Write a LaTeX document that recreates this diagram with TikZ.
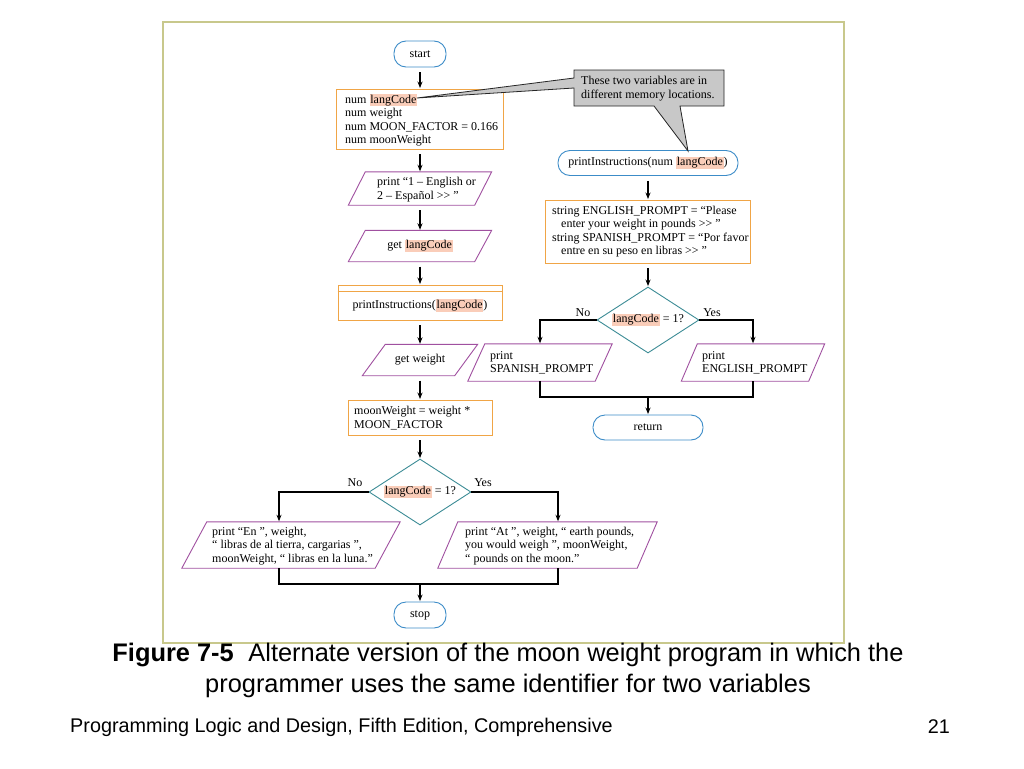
\documentclass[tikz,border=0pt]{standalone}
\usepackage{fontspec}
\setmainfont{Liberation Serif}
\newfontfamily\capfont{Liberation Sans}
\usetikzlibrary{arrows.meta,shapes.geometric}
\definecolor{orangeb}{RGB}{240,165,70}
\definecolor{purplec}{RGB}{160,80,160}
\definecolor{bluec}{RGB}{60,140,200}
\definecolor{tealc}{RGB}{60,140,150}
\definecolor{hlcol}{RGB}{250,205,185}
\definecolor{framec}{RGB}{200,200,140}
\definecolor{calloutc}{RGB}{200,200,200}
\newcommand\dfont{\fontsize{12}{13.5}\selectfont}
\newcommand\HiL[1]{{\setlength{\fboxsep}{0.8pt}\colorbox{hlcol}{#1}}}
\newcommand\parash[2]{\draw[parad] ([xshift=#2]#1.north west) -- ([xshift=#2]#1.north east) -- ([xshift=-#2]#1.south east) -- ([xshift=-#2]#1.south west) -- cycle;}
\begin{document}
\begin{tikzpicture}[x=1pt,y=-1pt,
  term/.style={draw=bluec, line width=0.9pt, rounded corners=12pt, minimum height=26pt, inner sep=0pt, font=\dfont},
  boxs/.style={draw=orangeb, line width=0.9pt, inner sep=0pt},
  body/.style={inner sep=0pt, font=\dfont},
  parad/.style={draw=purplec, line width=0.9pt},
  dec/.style={diamond, aspect=1.55, draw=tealc, line width=0.9pt, inner sep=0pt, minimum width=102pt, minimum height=66pt, font=\dfont},
  txt/.style={align=left, inner sep=0pt, font=\dfont},
  lbl/.style={inner sep=0pt, font=\dfont},
  conn/.style={draw, line width=1.1pt, shorten <=5pt, shorten >=0.5pt, -{Stealth[length=6.5pt,width=5pt]}},
  line/.style={draw, line width=1.1pt}
]
\useasboundingbox (0,0) rectangle (1024,768);
\fill[white] (0,0) rectangle (1024,768);
\draw[framec, line width=1.6pt] (163,22) rectangle (844,643);

% ---------- left column ----------
\node[term, minimum width=52pt] (start) at (420,54) {start};
\node[boxs, minimum width=167pt, minimum height=60pt] (decl) at (420,119) {};
\node[txt, anchor=west] (declt) at (345,120) {num \HiL{langCode}\\num weight\\num MOON\_FACTOR = 0.166\\num moonWeight};

\node[body, minimum width=126pt, minimum height=33pt] (prompt) at (420,188.5) {};
\parash{prompt}{8.5pt}
\node[txt, anchor=west] (promptt) at (377,189.5) {print “1 – English or\\2 – Español >\kern0pt> ”};

\node[body, minimum width=126pt, minimum height=31pt] (getlc) at (420,246) {get \HiL{langCode}};
\parash{getlc}{8.5pt}

\node[boxs, minimum width=164pt, minimum height=35pt] (pi) at (420,302.5) {};
\draw[orangeb, line width=0.9pt] ([yshift=-7pt]pi.north west) -- ([yshift=-7pt]pi.north east);
\node[lbl] (pit) at (420,305.5) {printInstructions(\HiL{langCode})};

\node[body, minimum width=92pt, minimum height=31pt] (getw) at (420,360) {get weight};
\parash{getw}{11.5pt}

\node[boxs, minimum width=144pt, minimum height=35pt] (mw) at (420,417.5) {};
\node[txt, anchor=west] (mwt) at (354,418) {moonWeight = weight *\\MOON\_FACTOR};

\node[dec] (d2) at (420,492) {\HiL{langCode} = 1?};
\node[lbl] (no2) at (355,483) {No};
\node[lbl] (yes2) at (483,483) {Yes};

\node[body, minimum width=193pt, minimum height=46pt] (en) at (291,545) {};
\parash{en}{12.5pt}
\node[txt, anchor=west] (ent) at (212,546) {print “En ”, weight,\\“ libras de al tierra, cargarias ”,\\moonWeight, “ libras en la luna.”};

\node[body, minimum width=199pt, minimum height=46pt] (at) at (547.5,545) {};
\parash{at}{10pt}
\node[txt, anchor=west] (att) at (465,546) {print “At ”, weight, “ earth pounds,\\you would weigh ”, moonWeight,\\“ pounds on the moon.”};

\node[term, minimum width=52pt] (stop) at (420,615) {stop};
\coordinate (m2) at (420,584);

\draw[conn] (start.south) -- (decl.north);
\draw[conn] (decl.south) -- (prompt.north);
\draw[conn] (prompt.south) -- (getlc.north);
\draw[conn] (getlc.south) -- (pi.north);
\draw[conn] (pi.south) -- (getw.north);
\draw[conn] (getw.south) -- (mw.north);
\draw[conn] (mw.south) -- (d2.north);
\draw[conn, shorten <=0pt] (d2.west) -| ([xshift=-12pt]en.north);
\draw[conn, shorten <=0pt] (d2.east) -| ([xshift=10.5pt]at.north);
\draw[line] ([xshift=-12pt]en.south) |- (m2) -| ([xshift=10.5pt]at.south);
\draw[conn, shorten <=0pt] (m2) -- (stop.north);

% ---------- right column ----------
\node[term, minimum width=180pt, minimum height=25pt] (pin) at (648,163) {printInstructions(num \HiL{langCode})};
\node[boxs, minimum width=205pt, minimum height=63pt] (ep) at (648,231.5) {};
\node[txt, anchor=west] (ept) at (552,231.5) {string ENGLISH\_PROMPT = “Please\\\hspace*{9pt}enter your weight in pounds >\kern0pt> ”\\string SPANISH\_PROMPT = “Por favor\\\hspace*{9pt}entre en su peso en libras >\kern0pt> ”};

\node[dec] (d1) at (648,320) {\HiL{langCode} = 1?};
\node[lbl] (no1) at (583,313) {No};
\node[lbl] (yes1) at (712,313) {Yes};

\node[body, minimum width=127pt, minimum height=37pt] (sp) at (540,362.5) {};
\parash{sp}{8.5pt}
\node[txt, anchor=west] (spt) at (490,363) {print\\SPANISH\_PROMPT};

\node[body, minimum width=127pt, minimum height=37pt] (eng) at (753,362.5) {};
\parash{eng}{8pt}
\node[txt, anchor=west] (engt) at (702,363) {print\\ENGLISH\_PROMPT};

\node[term, minimum width=110pt, minimum height=25pt] (ret) at (648,427.5) {return};
\coordinate (m1) at (648,397);

\draw[conn] (pin.south) -- (ep.north);
\draw[conn] (ep.south) -- (d1.north);
\draw[conn, shorten <=0pt] (d1.west) -| (sp.north);
\draw[conn, shorten <=0pt] (d1.east) -| (eng.north);
\draw[line] (sp.south) |- (m1) -| (eng.south);
\draw[conn, shorten <=0pt] (m1) -- (ret.north);

% ---------- callout ----------
\filldraw[fill=calloutc, draw=black!85, line width=0.8pt]
  (574,70) -- (724,70) -- (724,106) -- (680,106) -- (688,151) -- (654,106)
  -- (574,106) -- (574,88) -- (417,98) -- (574,78) -- cycle;
\node[txt, anchor=west] (note) at (581,88.5) {These two variables are in\\different memory locations.};

% ---------- caption & footer ----------
\node[font=\capfont\fontsize{25.4}{31}\selectfont, align=center, inner sep=0pt] (cap) at (508,670)
  {\textbf{Figure 7-5}\hspace{0.3em} Alternate version of the moon weight program in which the\\programmer uses the same identifier for two variables};
\node[font=\capfont\fontsize{19.8}{22}\selectfont, anchor=west, inner sep=0pt] (foot) at (70,727)
  {Programming Logic and Design, Fifth Edition, Comprehensive};
\node[font=\capfont\fontsize{19.8}{22}\selectfont, anchor=east, inner sep=0pt] (pg) at (950,727) {21};
\end{tikzpicture}
\end{document}
